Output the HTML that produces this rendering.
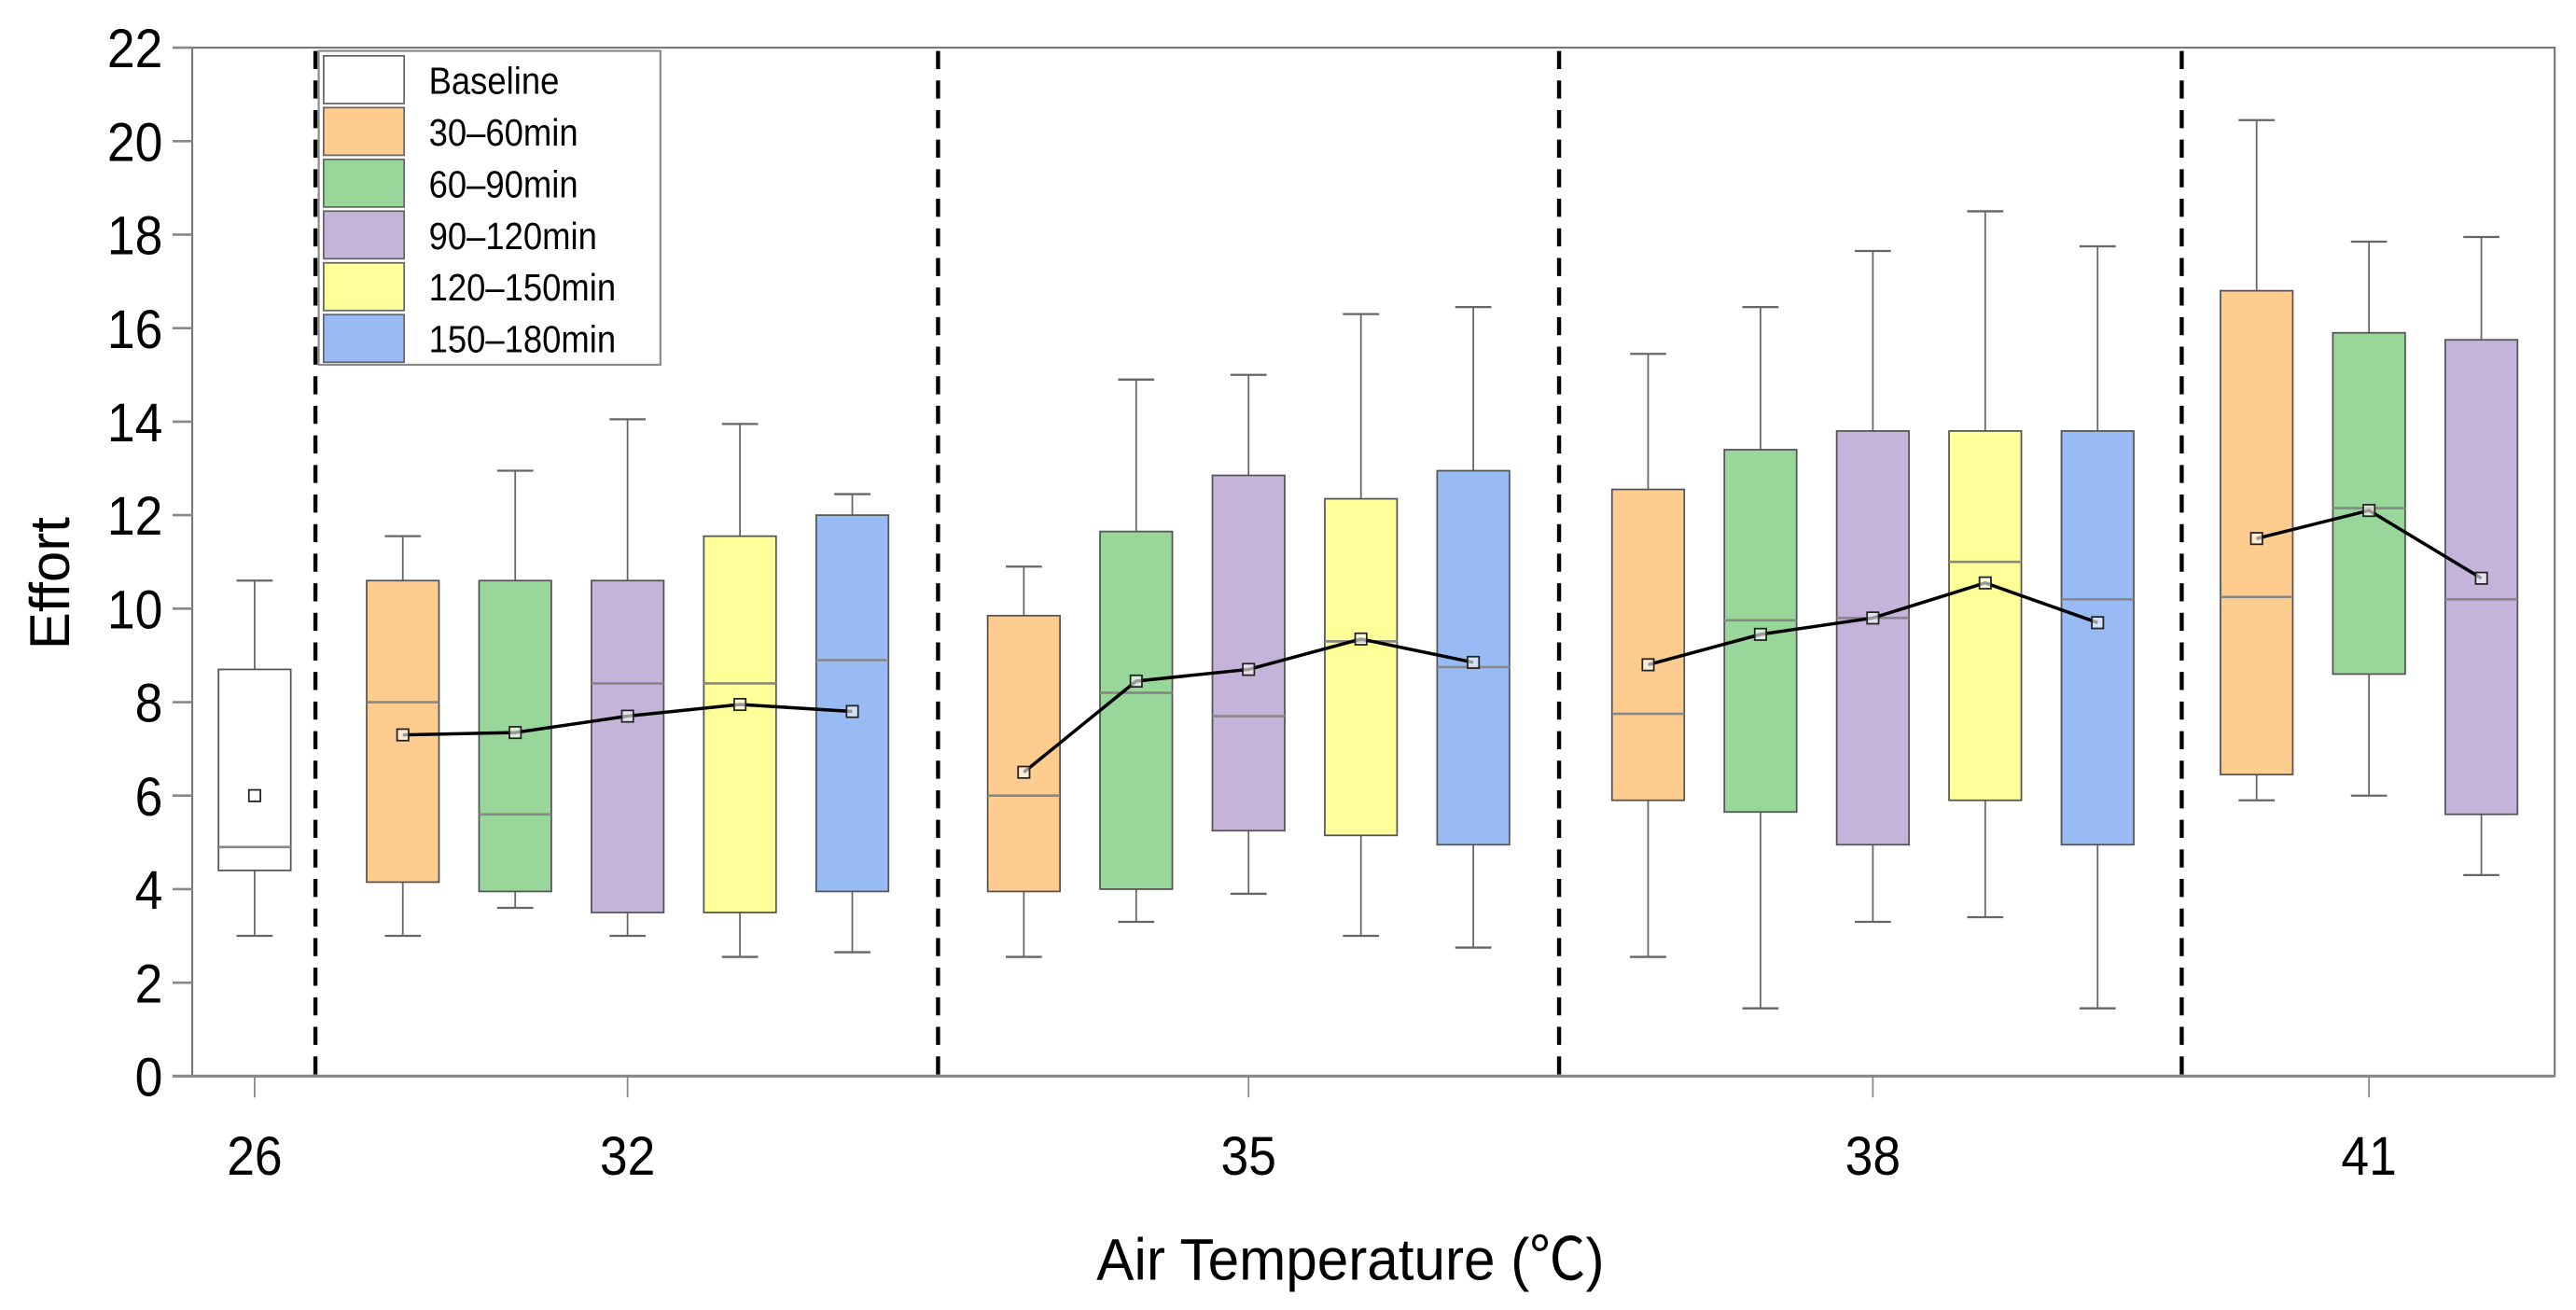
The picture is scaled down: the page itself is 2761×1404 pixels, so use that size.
<!DOCTYPE html>
<html><head><meta charset="utf-8"><style>
html,body{margin:0;padding:0;background:#fff;}
svg{display:block;font-family:"Liberation Sans","Noto Sans CJK SC",sans-serif;}
</style></head><body>
<svg id="chart" width="2761" height="1404" viewBox="0 0 1568 797.35" preserveAspectRatio="none" xmlns="http://www.w3.org/2000/svg">
<g id="plot"></g>
</svg>
<script>
const groups = ["26","32","35","38","41"];
const seriesNames = ["Baseline","30–60min","60–90min","90–120min","120–150min","150–180min"];
// per box: group index, series index
const boxGroup = [0,1,1,1,1,1,2,2,2,2,2,3,3,3,3,3,4,4,4];
const boxSeries = [0,1,2,3,4,5,1,2,3,4,5,1,2,3,4,5,1,2,3];
const whiskLow = [3.0,3.0,3.6,3.0,2.55,2.65,2.55,3.3,3.9,3.0,2.75,2.55,1.45,3.3,3.4,1.45,5.9,6.0,4.3];
const q1 = [4.4,4.15,3.95,3.5,3.5,3.95,3.95,4.0,5.25,5.15,4.95,5.9,5.65,4.95,5.9,4.95,6.45,8.6,5.6];
const medians = [4.9,8.0,5.6,8.4,8.4,8.9,6.0,8.2,7.7,9.3,8.75,7.75,9.75,9.8,11.0,10.2,10.25,12.15,10.2];
const q3 = [8.7,10.6,10.6,10.6,11.55,12.0,9.85,11.65,12.85,12.35,12.95,12.55,13.4,13.8,13.8,13.8,16.8,15.9,15.75];
const whiskHigh = [10.6,11.55,12.95,14.05,13.95,12.45,10.9,14.9,15.0,16.3,16.45,15.45,16.45,17.65,18.5,17.75,20.45,17.85,17.95];
const means = [6.0,7.3,7.35,7.7,7.95,7.8,6.5,8.45,8.7,9.35,8.85,8.8,9.45,9.8,10.55,9.7,11.5,12.1,10.65];
const yTicks = [0,2,4,6,8,10,12,14,16,18,20,22];

const NS="http://www.w3.org/2000/svg";
const g=document.getElementById('plot');
function el(t,a,p){const e=document.createElementNS(NS,t);for(const k in a)e.setAttribute(k,a[k]);(p||g).appendChild(e);return e;}
const X0=117,X1=1555,Y0=655,YT=29;
function y(v){return Y0-(v-0)*(Y0-YT)/22;}
const groupCenter=[155,382,760,1140,1442];
const groupCount=[1,5,5,5,3];
const step=68.4, bw=44;
const dividers=[192,571,949,1328];
const fills=["#ffffff","#ffcc90","#99d699","#c5b3d9","#ffff99","#99bbf5"];
function bx(i){const gi=boxGroup[i];const n=groupCount[gi];const idx=boxSeries.slice(0,i).filter((s,j)=>boxGroup[j]===gi).length;return groupCenter[gi]+(idx-(n-1)/2)*step;}

let fr=el('rect',{x:X0,y:YT,width:X1-X0,height:Y0-YT,fill:'none',stroke:'#777','stroke-width':1.2});

yTicks.forEach(v=>{
 let t=el('line',{x1:X0-12,x2:X0,y1:y(v),y2:y(v),stroke:'#888','stroke-width':1.5});
 
 let l=el('text',{x:0,y:0,'text-anchor':'end','font-size':33,fill:'#000',transform:'translate('+(X0-18)+','+(y(v)+12)+') scale(0.92,1)'});
 l.textContent=v;
 
});
groups.forEach((gname,i)=>{
 let t=el('line',{x1:groupCenter[i],x2:groupCenter[i],y1:Y0,y2:Y0+13,stroke:'#888','stroke-width':1});
 
 let l=el('text',{x:0,y:0,'text-anchor':'middle','font-size':33,fill:'#000',transform:'translate('+groupCenter[i]+',715) scale(0.92,1)'});
 l.textContent=gname;
 
});
dividers.forEach(dx=>{
 let d=el('line',{x1:dx,x2:dx,y1:YT+2,y2:Y0,stroke:'#000','stroke-width':2.5,'stroke-dasharray':'11 7'});
 
});
for(let i=0;i<means.length;i++){
 const cx=bx(i);
 const bg=el('g',{});
 
 el('line',{x1:cx,x2:cx,y1:y(whiskHigh[i]),y2:y(q3[i]),stroke:'#666','stroke-width':1},bg);
 el('line',{x1:cx,x2:cx,y1:y(q1[i]),y2:y(whiskLow[i]),stroke:'#666','stroke-width':1},bg);
 el('line',{x1:cx-11,x2:cx+11,y1:y(whiskHigh[i]),y2:y(whiskHigh[i]),stroke:'#666','stroke-width':1.3},bg);
 el('line',{x1:cx-11,x2:cx+11,y1:y(whiskLow[i]),y2:y(whiskLow[i]),stroke:'#666','stroke-width':1.3},bg);
 el('rect',{x:cx-bw/2,y:y(q3[i]),width:bw,height:y(q1[i])-y(q3[i]),fill:fills[boxSeries[i]],stroke:'#555','stroke-width':1},bg);
 el('line',{x1:cx-bw/2,x2:cx+bw/2,y1:y(medians[i]),y2:y(medians[i]),stroke:'#888','stroke-width':1.5},bg);
}
for(let gi=1;gi<groups.length;gi++){
 const pts=[];for(let i=0;i<means.length;i++)if(boxGroup[i]===gi)pts.push(bx(i)+','+y(means[i]));
 let pl=el('polyline',{points:pts.join(' '),fill:'none',stroke:'#000','stroke-width':2});
 
}
for(let i=0;i<means.length;i++){
 let m=el('rect',{x:bx(i)-3.5,y:y(means[i])-3.5,width:7,height:7,fill:'#fff','fill-opacity':0.6,stroke:'#222','stroke-width':1});
 
}
let ax=el('line',{x1:X0-12,x2:X1,y1:Y0,y2:Y0,stroke:'#888','stroke-width':1.8});

let xt=el('text',{x:0,y:0,'text-anchor':'middle','font-size':36,fill:'#000',transform:'translate(822,779) scale(0.95,1)'});
xt.textContent='Air Temperature (℃)';

let yt=el('text',{x:0,y:0,'text-anchor':'middle','font-size':34,fill:'#000',transform:'translate(42,355) rotate(-90)'});
yt.textContent='Effort';

const lg=el('g',{});

el('rect',{x:194,y:31,width:208,height:191,fill:'#fff',stroke:'#888','stroke-width':1.2},lg);
seriesNames.forEach((s,i)=>{
 const ry=34+i*31.5;
 const e=el('g',{},lg);
 
 el('rect',{x:197,y:ry,width:49,height:29,fill:fills[i],stroke:'#666','stroke-width':1},e);
 const t=el('text',{x:0,y:0,'font-size':23,fill:'#000',transform:'translate(261,'+(ry+23)+') scale(0.9,1)'},e);
 t.textContent=s;
});
</script>
</body></html>
